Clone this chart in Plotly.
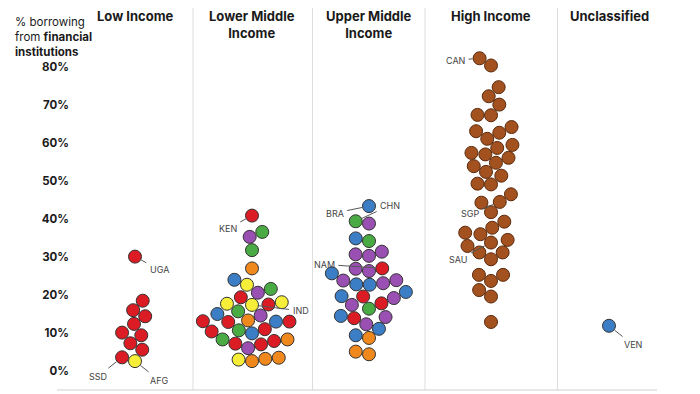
import math
import plotly.graph_objects as go

# ---------------- data ----------------
group_names = ["Low Income", "Lower Middle<br>Income", "Upper Middle<br>Income",
               "High Income", "Unclassified"]

low_values = [30.1, 18.5, 16.0, 14.4, 12.4, 9.4, 10.1, 7.3, 5.6, 3.6, 2.6]
low_regions = ["SSA"] * 10 + ["SAS"]
low_codes = ["UGA", "", "", "", "", "", "", "", "", "SSD", "AFG"]

lmi_values = [40.9, 35.3, 36.6, 31.8, 27.0, 24.0, 22.7, 21.6, 20.6, 19.4, 17.7, 17.5,
              17.4, 18.1, 15.7, 14.6, 15.0, 13.3, 13.0, 12.9, 13.1, 13.0, 10.4, 11.0,
              10.7, 9.9, 8.3, 7.9, 8.3, 7.0, 7.2, 6.0, 2.6, 3.2, 3.5, 3.0]
lmi_regions = ["SSA", "ECA", "EAP", "EAP", "MNA", "LAC", "SAS", "EAP", "ECA", "SSA", "SAS", "SSA",
               "SAS", "SAS", "EAP", "ECA", "LAC", "MNA", "LAC", "SSA", "SSA", "SSA", "SSA", "SSA",
               "EAP", "LAC", "EAP", "SSA", "MNA", "SSA", "SSA", "ECA", "MNA", "MNA", "MNA", "SAS"]
lmi_codes = ["KEN"] + [""] * 11 + ["IND"] + [""] * 23

umi_values = [43.4, 39.4, 38.8, 34.9, 34.2, 31.4, 30.3, 30.7, 27.0, 26.3, 26.9, 25.7,
              23.1, 22.7, 22.8, 23.9, 23.8, 20.8, 19.7, 19.2, 19.6, 17.8, 17.4, 16.4,
              14.5, 13.9, 14.2, 12.3, 11.1, 9.4, 8.7, 5.1, 4.4]
umi_regions = ["LAC", "EAP", "ECA", "LAC", "EAP", "ECA", "ECA", "ECA", "SSA", "ECA", "ECA", "LAC",
               "ECA", "LAC", "LAC", "ECA", "ECA", "LAC", "LAC", "ECA", "SSA", "SSA", "ECA", "EAP",
               "LAC", "SSA", "ECA", "ECA", "LAC", "LAC", "MNA", "MNA", "MNA"]
umi_codes = ["BRA", "CHN"] + [""] * 6 + ["NAM"] + [""] * 24

hi_values = [82.3, 80.4, 74.7, 72.3, 70.1, 67.3, 67.4, 64.2, 63.1, 62.7, 61.1, 59.5,
             58.7, 57.0, 57.4, 56.1, 54.8, 53.9, 52.4, 51.4, 49.1, 49.3, 46.5, 44.5,
             44.3, 41.8, 39.3, 37.7, 36.0, 36.4, 34.5, 33.8, 32.9, 31.2, 31.2, 29.4,
             25.3, 25.3, 23.7, 21.3, 19.6, 12.9]
hi_regions = ["HIC"] * 42
hi_codes = ["CAN"] + [""] * 22 + ["SGP"] + [""] * 7 + ["SAU"] + [""] * 10

unc_values = [11.9]
unc_regions = ["LAC"]
unc_codes = ["VEN"]

y_ticks = [0, 10, 20, 30, 40, 50, 60, 70, 80]

# ---------------- style ----------------
region_colors = {"SSA": "#dc1c24", "SAS": "#f7ee3a", "EAP": "#4aaa43", "ECA": "#9a50b2",
                 "LAC": "#3b7ec6", "MNA": "#f0891d", "HIC": "#a3521f"}
region_lines = {"HIC": "#5a2a0c"}

W, H = 700, 394
ML = 70                     # left margin (px)
Y0_PX, Y80_PX = 371, 67     # pixel rows of 0% and 80%
PPU = (Y0_PX - Y80_PX) / 80.0
y_range = [-(H - Y0_PX) / PPU, Y0_PX / PPU]

group_centers = [135, 252, 369, 491, 609]       # px
panel_edges = [57, 193, 312.5, 425, 557.5, 657]  # px
FONT = "Inter"
SWARM_D = 13.5

# label direction (side, vertical offset px)
label_dirs = {"UGA": (1, 13), "SSD": (-1, 19), "AFG": (1, 19), "KEN": (-1, 13),
              "IND": (1, 6), "BRA": (-1, 7), "CHN": (1, -16), "NAM": (-1, -4),
              "CAN": (-1, 2), "SGP": (-1, 12), "SAU": (-1, 17), "VEN": (1, 19)}


def swarm(vals, d):
    """Simple beeswarm layout in pixel space: returns x offsets."""
    order = sorted(range(len(vals)), key=lambda i: vals[i])
    placed, xs = [], [0.0] * len(vals)
    for i in order:
        y = vals[i] * PPU
        cands = [0.0]
        for xj, yj in placed:
            dy = abs(y - yj)
            if dy < d:
                dx = math.sqrt(d * d - dy * dy)
                cands += [xj - dx, xj + dx]
        cands.sort(key=lambda c: (abs(c), c))
        chosen = 0.0
        for c in cands:
            if all((c - xj) ** 2 + (y - yj) ** 2 >= d * d - 1e-6 for xj, yj in placed):
                chosen = c
                break
        xs[i] = chosen
        placed.append((chosen, y))
    return xs


groups = [
    (low_values, low_regions, low_codes),
    (lmi_values, lmi_regions, lmi_codes),
    (umi_values, umi_regions, umi_codes),
    (hi_values, hi_regions, hi_codes),
    (unc_values, unc_regions, unc_codes),
]

fig = go.Figure()
annotations = []

for gi, (vals, regs, codes) in enumerate(groups):
    offs = swarm(vals, SWARM_D)
    xs = [group_centers[gi] + o for o in offs]
    fig.add_trace(go.Scatter(
        x=xs, y=vals, mode="markers",
        marker=dict(size=13,
                    color=[region_colors[r] for r in regs],
                    line=dict(width=1, color=[region_lines.get(r, "#333333") for r in regs])),
        hoverinfo="skip", showlegend=False,
    ))
    lo_lim = panel_edges[gi] + 12
    hi_lim = panel_edges[gi + 1] - 12
    for x, v, c in zip(xs, vals, codes):
        if not c:
            continue
        side, ay = label_dirs[c]
        # push label just outside the swarm at the label's height
        ly = v * PPU - ay
        near = [xx for xx, vv in zip(xs, vals) if abs(vv * PPU - ly) < 11]
        if side < 0:
            edge = min(near + [x]) - 7
            lx = max(min(edge - 14, x - 24), lo_lim)
        else:
            edge = max(near + [x]) + 7
            lx = min(max(edge + 14, x + 24), hi_lim)
        annotations.append(dict(
            x=x, y=v, xref="x", yref="y", text=c, showarrow=True,
            ax=lx - x, ay=ay, arrowhead=0, arrowwidth=1, arrowcolor="#555555",
            standoff=7, startstandoff=2,
            font=dict(family=FONT, size=9, color="#444444")))
    annotations.append(dict(
        x=group_centers[gi], y=1 - 6 / H, xref="x", yref="paper",
        text="<b>" + group_names[gi] + "</b>", showarrow=False,
        xanchor="center", yanchor="top", align="center",
        font=dict(family=FONT, size=13, color="#1a1a1a")))

annotations.append(dict(
    x=0, xshift=13 - ML, y=1 - 13 / H, xref="paper", yref="paper",
    text="% borrowing<br>from <b>financial</b><br><b>institutions</b>",
    showarrow=False, xanchor="left", yanchor="top", align="left",
    font=dict(family=FONT, size=11.5, color="#1a1a1a")))

shapes = []
for dx in panel_edges[1:-1]:
    shapes.append(dict(type="line", xref="x", yref="paper", x0=dx, x1=dx,
                       y0=1 - 8 / H, y1=1 - 390 / H,
                       line=dict(color="#dddddd", width=1)))
shapes.append(dict(type="line", xref="paper", yref="paper",
                   x0=(panel_edges[0] - ML) / (W - ML), x1=(panel_edges[-1] - ML) / (W - ML),
                   y0=1 - 390 / H, y1=1 - 390 / H,
                   line=dict(color="#d0d0d0", width=1)))

fig.update_layout(
    width=W, height=H, margin=dict(l=ML, r=0, t=0, b=0),
    paper_bgcolor="white", plot_bgcolor="white",
    xaxis=dict(range=[ML, W], showgrid=False, zeroline=False, showticklabels=False,
               showline=False, fixedrange=True),
    yaxis=dict(range=y_range, tickvals=y_ticks, ticktext=[f"{t}%" for t in y_ticks],
               showgrid=False, zeroline=False, showline=False, ticks="",
               ticklabelstandoff=0,
               tickfont=dict(family=FONT, size=11.5, color="#1a1a1a", weight="bold"),
               fixedrange=True),
    annotations=annotations, shapes=shapes,
)

fig.write_html("out.html", config={"displayModeBar": False},
               post_script="document.body.style.margin='0';")
